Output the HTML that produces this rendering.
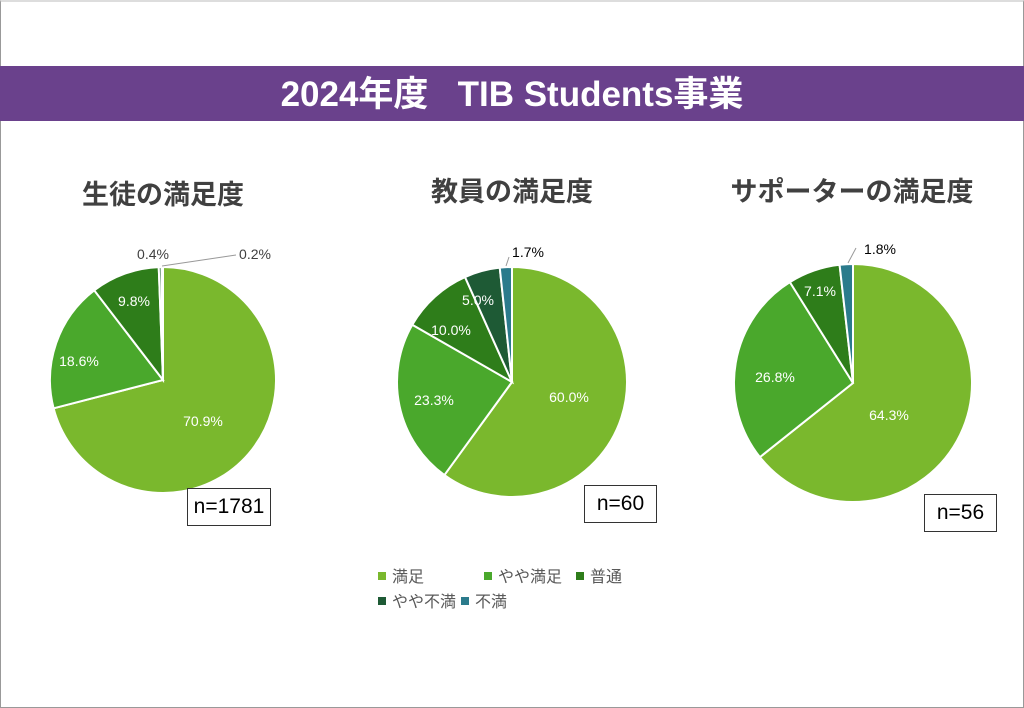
<!DOCTYPE html>
<html><head><meta charset="utf-8"><style>
body{margin:0;width:1024px;height:707px;background:#fff;overflow:hidden;font-family:"Liberation Sans","Noto Sans CJK JP",sans-serif;}
#frame{position:absolute;left:0;top:0;width:1022px;height:705px;border:1px solid #999;border-top:2px solid #ddd;}
#banner{position:absolute;left:0;top:66px;width:1024px;height:55px;background:#6a418c;color:#fff;font-weight:bold;font-size:35px;text-align:center;line-height:58px;}
.t{position:absolute;font-weight:bold;font-size:27px;color:#404040;font-family:"Noto Sans CJK JP",sans-serif;text-align:center;}
.n{position:absolute;border:1.5px solid #333;background:#fff;font-size:21px;color:#000;text-align:center;line-height:36px;height:36px;}
svg{position:absolute;left:0;top:0}
.lg{position:absolute;font-size:16px;line-height:25px;color:#595959;font-family:"Noto Sans CJK JP",sans-serif;}
.lg i{display:inline-block;width:8px;height:8px;margin-right:6px;vertical-align:2px}
</style></head><body>
<div id="frame"></div>
<div id="banner">2024年度&nbsp;&nbsp;&nbsp;TIB Students事業</div>
<div class="t" style="left:63px;top:173px;width:200px">生徒の満足度</div>
<div class="t" style="left:412px;top:170px;width:200px">教員の満足度</div>
<div class="t" style="left:712px;top:170px;width:280px">サポーターの満足度</div>
<svg width="1024" height="707" id="s" font-family="Liberation Sans, sans-serif" font-size="14"></svg>
<div class="n" style="left:187px;top:488px;width:82px">n=1781</div>
<div class="n" style="left:584px;top:485px;width:71px">n=60</div>
<div class="n" style="left:924px;top:494px;width:71px">n=56</div>
<div class="lg" style="left:378px;top:563px">
<div><i style="background:#7ab82d"></i>満足<span style="display:inline-block;width:60px"></span><i style="background:#4aa82c"></i>やや満足<span style="display:inline-block;width:14px"></span><i style="background:#2e7d1a"></i>普通</div>
<div><i style="background:#1e5a35"></i>やや不満<span style="display:inline-block;width:5px"></span><i style="background:#2b7b8c"></i>不満</div>
</div>
<script>
var C=["#7ab82d","#4aa82c","#2e7d1a","#1e5a35","#2b7b8c"];
var P=[[163,380,113,[70.9,18.6,9.8,0.4,0.2]],[512,382,115,[60,23.3,10,5,1.7]],[853,383,119,[64.3,26.8,7.1,0,1.8]]];
var s="";
P.forEach(function(p){var cx=p[0],cy=p[1],r=p[2],v=p[3],tot=v.reduce(function(a,b){return a+b}),a=0;
v.forEach(function(x,i){if(!x)return;var a0=a,a1=a+x/tot*2*Math.PI;a=a1;
var x0=cx+r*Math.sin(a0),y0=cy-r*Math.cos(a0),x1=cx+r*Math.sin(a1),y1=cy-r*Math.cos(a1);
s+='<path d="M'+cx+','+cy+'L'+x0+','+y0+'A'+r+','+r+' 0 '+((a1-a0)>Math.PI?1:0)+' 1 '+x1+','+y1+'Z" fill="'+C[i]+'" stroke="#fff" stroke-width="2"/>';});});
var L=[[203,421,"70.9%","#fff"],[79,361,"18.6%","#fff"],[134,301,"9.8%","#fff"],[153,254,"0.4%","#404040"],[255,254,"0.2%","#404040"],
[569,397,"60.0%","#fff"],[434,400,"23.3%","#fff"],[451,330,"10.0%","#fff"],[478,300,"5.0%","#fff"],[528,252,"1.7%","#000"],
[889,415,"64.3%","#fff"],[775,377,"26.8%","#fff"],[820,291,"7.1%","#fff"],[880,249,"1.8%","#000"]];
L.forEach(function(l){s+='<text x="'+l[0]+'" y="'+(l[1]+5)+'" text-anchor="middle" fill="'+l[3]+'">'+l[2]+'</text>';});
s+='<path d="M162,266 L236,255" stroke="#999" fill="none"/><path d="M506,266 L509,257" stroke="#999"/><path d="M848,263 L856,248" stroke="#999"/>';
document.getElementById("s").innerHTML=s;
</script>
</body></html>
